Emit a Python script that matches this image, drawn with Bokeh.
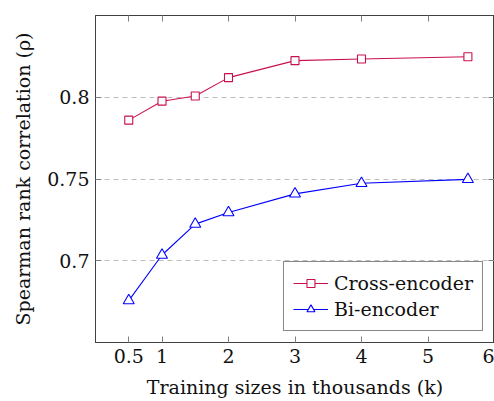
from bokeh.plotting import figure
from bokeh.models import FixedTicker, LinearAxis, Range1d, Legend, LegendItem, CustomJSTickFormatter
from bokeh.embed import file_html
from bokeh.resources import INLINE

# ---- data ----
train_sizes = [0.5, 1, 1.5, 2, 3, 4, 5.6]
cross_encoder = [0.786, 0.7976, 0.8008, 0.812, 0.8224, 0.8234, 0.8248]
bi_encoder = [0.6756, 0.7035, 0.7224, 0.7295, 0.7409, 0.7474, 0.7498]
x_ticks = [0.5, 1, 2, 3, 4, 5, 6]
x_tick_labels = ["0.5", "1", "2", "3", "4", "5", "6"]
y_ticks = [0.7, 0.75, 0.8]
y_tick_labels = ["0.7", "0.75", "0.8"]
series_names = ["Cross-encoder", "Bi-encoder"]

FONT = "DejaVu Serif"
FS = "19px"
RED = "#c8104e"
BLUE = "#0000ff"
AX = "#404040"
TK = "#808080"

p = figure(width=494, height=401, output_backend="svg", toolbar_location=None,
           x_range=Range1d(0, 6), y_range=Range1d(0.65, 0.85),
           min_border_left=95, min_border_right=0, min_border_top=15,
           min_border_bottom=59)

p.outline_line_color = AX
p.xgrid.visible = False
p.ygrid.ticker = FixedTicker(ticks=y_ticks)
p.ygrid.grid_line_color = "#bdbdbd"
p.ygrid.grid_line_dash = "5 4"

# main axes
xa = p.xaxis[0]
xa.ticker = FixedTicker(ticks=x_ticks)
xa.major_label_overrides = {t: l for t, l in zip(x_ticks, x_tick_labels)}
xa.axis_label = "Training sizes in thousands (k)"
ya = p.yaxis[0]
ya.ticker = FixedTicker(ticks=y_ticks)
ya.major_label_overrides = {t: l for t, l in zip(y_ticks, y_tick_labels)}
ya.axis_label = "Spearman rank correlation (ρ)"

for ax in (xa, ya):
    ax.axis_line_color = AX
    ax.major_tick_line_color = TK
    ax.major_tick_in = 6
    ax.major_tick_out = 0
    ax.minor_tick_line_color = None
    ax.major_label_text_font = FONT
    ax.major_label_text_font_size = FS
    ax.major_label_text_color = "#111111"
    ax.axis_label_text_font = FONT
    ax.axis_label_text_font_size = FS
    ax.axis_label_text_font_style = "normal"
    ax.axis_label_text_color = "#111111"
    ax.major_label_standoff = 6
    ax.axis_label_standoff = 10

# mirrored tick axes (ticks only)
blank = CustomJSTickFormatter(code="return ''")
top = LinearAxis(ticker=FixedTicker(ticks=x_ticks), formatter=blank)
right = LinearAxis(ticker=FixedTicker(ticks=y_ticks), formatter=blank)
for ax in (top, right):
    ax.axis_line_color = AX
    ax.major_tick_line_color = TK
    ax.major_tick_in = 6
    ax.major_tick_out = 0
    ax.minor_tick_line_color = None
    ax.major_label_standoff = 0
p.add_layout(top, "above")
p.add_layout(right, "right")

# series
l1 = p.line(train_sizes, cross_encoder, line_color=RED, line_width=1.1)
s1 = p.scatter(train_sizes, cross_encoder, marker="square", size=8,
               line_color=RED, fill_color="white", line_width=1.1)
l2 = p.line(train_sizes, bi_encoder, line_color=BLUE, line_width=1.1)
s2 = p.scatter(train_sizes, bi_encoder, marker="triangle", size=11,
               line_color=BLUE, fill_color="white", line_width=1.1)

legend = Legend(items=[LegendItem(label=series_names[0], renderers=[l1, s1]),
                       LegendItem(label=series_names[1], renderers=[l2, s2])],
                location="bottom_right")
legend.label_text_font = FONT
legend.label_text_font_size = FS
legend.label_text_color = "#111111"
legend.border_line_color = "#111111"
legend.border_line_width = 1
legend.glyph_width = 35
legend.glyph_height = 20
legend.label_height = 24
legend.spacing = 2
legend.padding = 9
legend.margin = 11
legend.label_standoff = 6
p.add_layout(legend, "center")

open("out.html", "w").write(file_html(p, INLINE))
